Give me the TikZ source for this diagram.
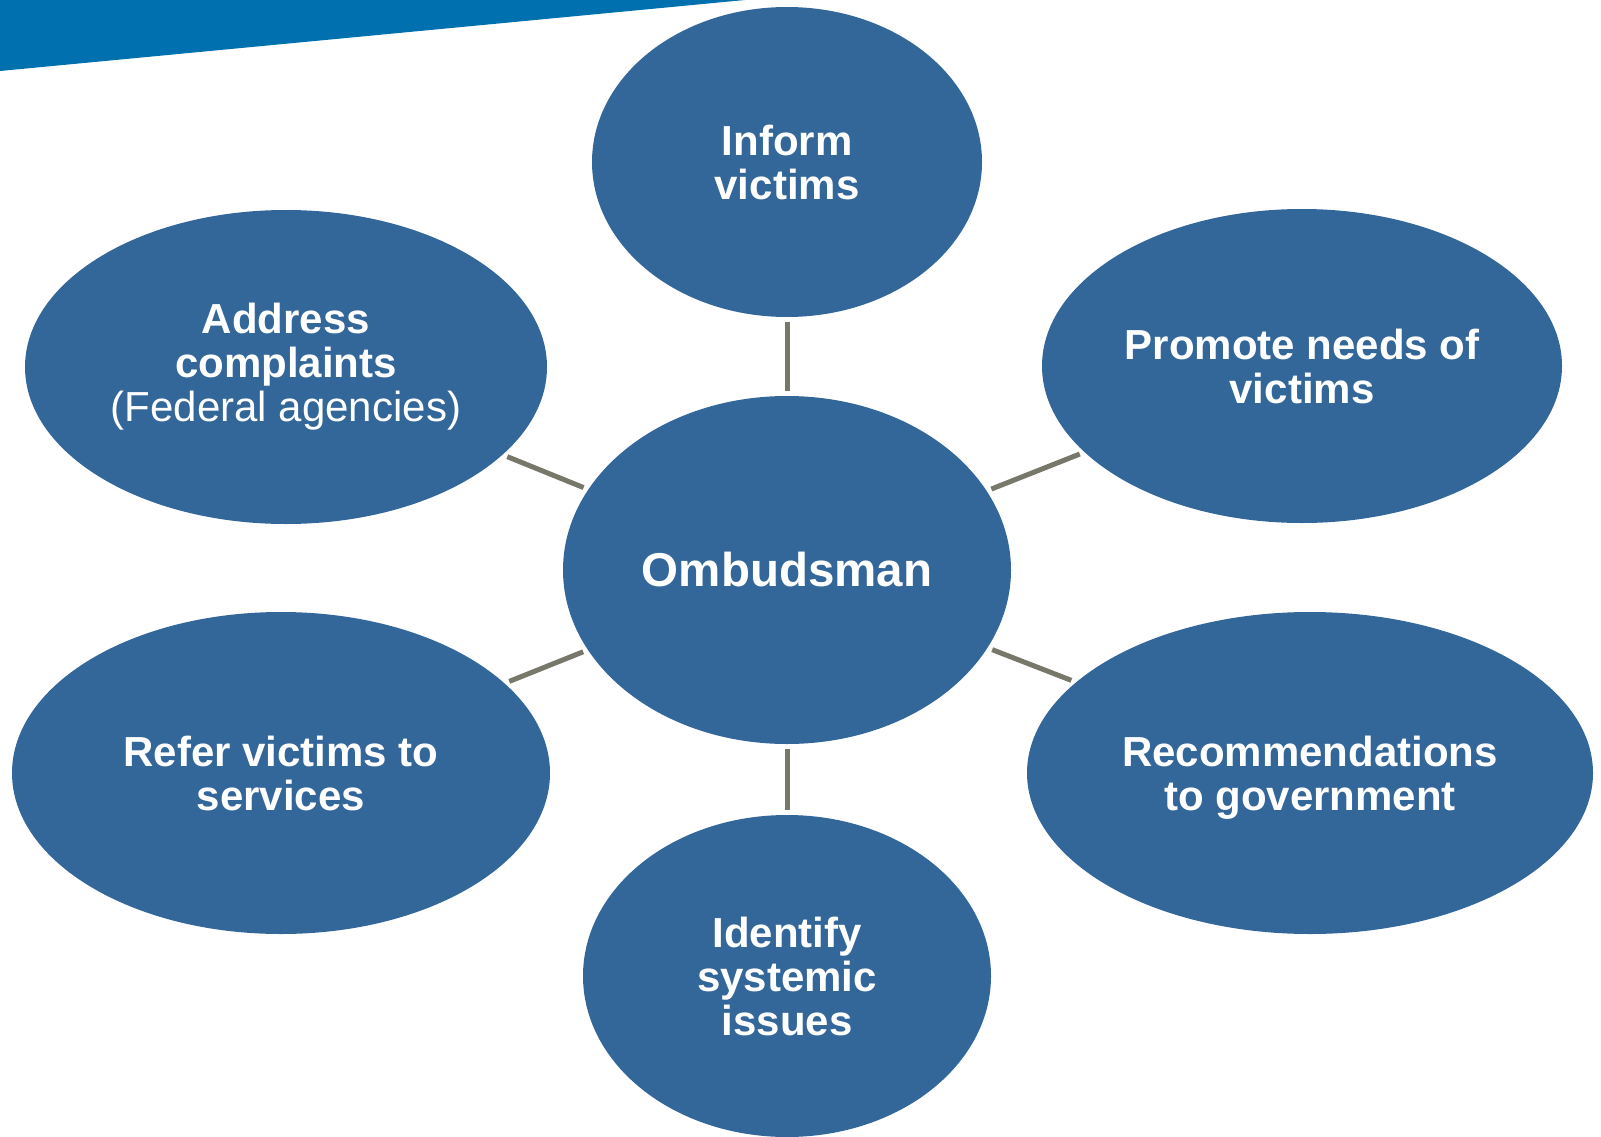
\documentclass[tikz,border=0pt]{standalone}
\usepackage{fontspec}
\setmainfont{Liberation Sans}
\usetikzlibrary{shapes.geometric}
\definecolor{band}{RGB}{0,112,174}
\definecolor{ellfill}{RGB}{51,102,153}
\definecolor{link}{RGB}{119,119,106}
\tikzset{
  bubble/.style={ellipse, fill=ellfill, inner sep=0pt, text=white, align=center,
    font=\fontsize{42}{44}\selectfont\bfseries},
  linkline/.style={draw=link, line width=5pt, shorten >=5pt, shorten <=5pt}
}
\begin{document}
\begin{tikzpicture}[x=1pt,y=-1pt]
\useasboundingbox (0,0) rectangle (1601,1137);
\fill[band] (0,0) -- (745,0) -- (0,71) -- cycle;
\node[bubble, minimum width=390pt, minimum height=310pt] (inform) at (787,162) {Inform\\victims};
\node[bubble, minimum width=448pt, minimum height=348pt, font=\fontsize{47.5}{50}\selectfont\bfseries] (omb) at (787,570) {Ombudsman};
\node[bubble, minimum width=522pt, minimum height=314pt] (address) at (286,367) {Address\\complaints\\{\mdseries(Federal agencies)}};
\node[bubble, minimum width=520pt, minimum height=314pt] (promote) at (1302,366) {Promote needs of\\victims};
\node[bubble, minimum width=538pt, minimum height=322pt] (refer) at (281,773) {Refer victims to\\services};
\node[bubble, minimum width=566pt, minimum height=322pt] (recom) at (1310,773) {\rule{0pt}{39pt}Recommendations\\to government};
\node[bubble, minimum width=408pt, minimum height=322pt] (identify) at (787,976) {Identify\\systemic\\issues};
\draw[linkline] (omb) -- (inform);
\draw[linkline] (omb) -- (address);
\draw[linkline] (omb) -- (promote);
\draw[linkline] (omb) -- (refer);
\draw[linkline] (omb) -- (recom);
\draw[linkline] (omb) -- (identify);
\end{tikzpicture}
\end{document}
